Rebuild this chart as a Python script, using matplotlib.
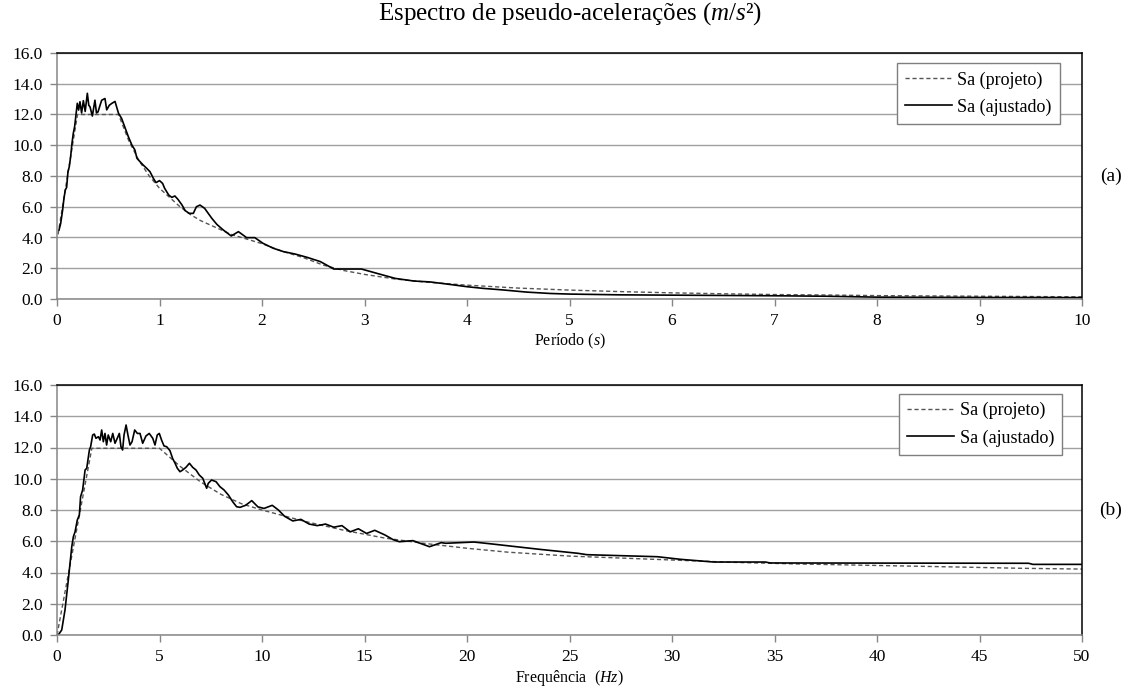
import matplotlib
matplotlib.use("Agg")
import matplotlib.pyplot as plt
import numpy as np

plt.rcParams["font.family"] = "Liberation Serif"
plt.rcParams["mathtext.fontset"] = "custom"
plt.rcParams["mathtext.rm"] = "Liberation Serif"
plt.rcParams["mathtext.it"] = "Liberation Serif:italic"

# (a) spectrum against period, s
periodo_proj = [0.01, 0.2, 0.6, 0.7, 0.8, 0.9, 1.0, 1.1, 1.2, 1.3, 1.4, 1.5, 1.6, 1.7, 1.8,
                2.0, 2.2, 2.4, 2.6, 2.8, 3.0, 3.3, 3.6, 4.0, 4.5, 5.0, 5.5, 6.0, 6.5, 7.0,
                7.5, 8.0, 8.5, 9.0, 9.5, 10.0]
sa_proj_a = [4.2, 12.0, 12.0, 10.3, 9.0, 8.0, 7.2, 6.6, 6.0, 5.5, 5.1, 4.8, 4.5, 4.2, 4.0,
             3.6, 3.1, 2.7, 2.2, 1.85, 1.6, 1.3, 1.1, 0.9, 0.71, 0.58, 0.48, 0.40, 0.34, 0.29,
             0.26, 0.22, 0.20, 0.18, 0.16, 0.14]

periodo_ajust = [0.02, 0.036, 0.055, 0.068, 0.081, 0.094, 0.107, 0.12, 0.133, 0.146,
                 0.159, 0.172, 0.185, 0.198, 0.211, 0.224, 0.24, 0.257, 0.275, 0.296,
                 0.31, 0.322, 0.345, 0.37, 0.385, 0.40, 0.42, 0.436, 0.468, 0.485,
                 0.51, 0.534, 0.566, 0.60, 0.63, 0.66, 0.696, 0.73, 0.76, 0.78,
                 0.81, 0.84, 0.875, 0.907, 0.94, 0.966, 1.0, 1.03, 1.05, 1.09,
                 1.12, 1.15, 1.18, 1.22, 1.25, 1.29, 1.33, 1.36, 1.395, 1.44,
                 1.51, 1.56, 1.62, 1.70, 1.77, 1.85, 1.93, 2.01, 2.11, 2.21,
                 2.32, 2.44, 2.57, 2.70, 2.83, 2.97, 3.12, 3.30, 3.48, 3.64,
                 3.83, 4.0, 4.16, 4.35, 4.58, 4.81, 5.0, 5.5, 6.0, 6.5,
                 7.0, 7.5, 8.0, 8.5, 9.0, 9.5, 10.0]
sa_ajust_a = [4.49, 4.92, 5.79, 6.55, 7.09, 7.26, 8.28, 8.61, 9.26, 10.12,
              10.78, 11.21, 11.97, 12.73, 12.29, 12.83, 12.1, 12.9, 12.2, 13.38,
              12.6, 12.5, 11.9, 12.93, 12.1, 12.17, 12.6, 12.93, 13.04, 12.3,
              12.6, 12.72, 12.85, 12.08, 11.75, 11.21, 10.56, 10.02, 9.69, 9.15,
              8.93, 8.72, 8.5, 8.28, 7.85, 7.57, 7.7, 7.52, 7.2, 6.76,
              6.61, 6.7, 6.48, 6.11, 5.75, 5.57, 5.57, 6.0, 6.11, 5.9,
              5.25, 4.85, 4.5, 4.1, 4.38, 3.99, 3.99, 3.62, 3.3, 3.08,
              2.93, 2.71, 2.43, 1.95, 1.95, 1.95, 1.67, 1.34, 1.17, 1.11,
              0.95, 0.80, 0.69, 0.59, 0.45, 0.36, 0.32, 0.27, 0.25, 0.23,
              0.21, 0.18, 0.12, 0.11, 0.10, 0.10, 0.09]

# (b) spectrum against frequency, Hz
freq_proj = [0, 1.7, 5.0, 6, 7, 8, 9, 10, 12, 14, 16, 18, 20, 22, 25, 28, 30, 33, 36,
             40, 44, 47, 50]
sa_proj_b = [0, 11.95, 11.95, 10.8, 9.8, 9.0, 8.4, 8.0, 7.3, 6.7, 6.2, 5.85, 5.55, 5.3,
             5.05, 4.9, 4.8, 4.65, 4.55, 4.45, 4.35, 4.27, 4.22]

freq_ajust = [0.06, 0.23, 0.39, 0.55, 0.72, 0.8, 0.88, 0.99, 1.09, 1.15,
              1.25, 1.37, 1.45, 1.58, 1.64, 1.74, 1.82, 1.9, 2.02, 2.1,
              2.18, 2.26, 2.34, 2.42, 2.5, 2.62, 2.72, 2.83, 2.94, 3.04,
              3.12, 3.2, 3.27, 3.37, 3.46, 3.56, 3.66, 3.79, 3.92, 4.05,
              4.18, 4.34, 4.5, 4.67, 4.78, 4.89, 4.99, 5.1, 5.22, 5.35,
              5.51, 5.64, 5.76, 5.87, 6.0, 6.13, 6.29, 6.46, 6.62, 6.78,
              6.94, 7.11, 7.3, 7.38, 7.54, 7.76, 7.95, 8.15, 8.36, 8.57,
              8.76, 8.93, 9.2, 9.5, 9.8, 10.1, 10.5, 10.8, 11.1, 11.5,
              11.9, 12.3, 12.7, 13.1, 13.5, 13.9, 14.3, 14.7, 15.1, 15.5,
              16.0, 16.4, 16.7, 17.36, 18.17, 18.74, 18.97, 20.34, 21.26, 22.41,
              23.56, 25.4, 25.85, 29.29, 30.44, 32.04, 34.56, 34.79, 47.4, 47.6,
              50.0]
sa_ajust_b = [0.0, 0.32, 1.6, 3.5, 5.65, 6.3, 6.6, 7.36, 7.68, 8.85,
              9.28, 10.56, 10.67, 11.84, 12.05, 12.8, 12.86, 12.59, 12.69, 12.48,
              13.12, 12.37, 12.9, 12.16, 12.8, 12.37, 12.9, 12.27, 12.59, 12.9,
              12.05, 11.84, 12.8, 13.44, 12.8, 12.16, 12.37, 13.12, 12.9, 12.9,
              12.27, 12.74, 12.9, 12.59, 12.16, 12.8, 12.9, 12.48, 12.1, 12.05,
              11.8, 11.3, 10.99, 10.67, 10.45, 10.56, 10.73, 10.99, 10.73, 10.56,
              10.24, 10.03, 9.39, 9.71, 9.92, 9.81, 9.49, 9.28, 8.96, 8.53,
              8.21, 8.17, 8.3, 8.6, 8.2, 8.1, 8.3, 8.0, 7.6, 7.3,
              7.4, 7.1, 7.0, 7.1, 6.9, 7.0, 6.6, 6.8, 6.5, 6.7,
              6.4, 6.1, 5.97, 6.04, 5.65, 5.91, 5.87, 5.95, 5.82, 5.65,
              5.48, 5.23, 5.14, 5.01, 4.84, 4.67, 4.67, 4.61, 4.59, 4.52,
              4.52]

GRID = "#a0a0a0"
AXIS_GREY = "#868686"

fig = plt.figure(figsize=(11.34, 6.97), dpi=100)
W, H = 1134, 697
ax1 = fig.add_axes([57 / W, 1 - 299 / H, 1025 / W, 246 / H])
ax2 = fig.add_axes([57 / W, 1 - 635 / H, 1025 / W, 250 / H])


def style_axes(ax, xmax, xstep):
    ax.set_xlim(0, xmax)
    ax.set_ylim(0, 16)
    ax.set_xticks(np.arange(0, xmax + 0.01, xstep))
    ax.set_yticks(np.arange(0, 16.1, 2))
    ax.set_yticklabels([f"{v:.1f}" for v in np.arange(0, 16.1, 2)])
    ax.grid(axis="y", color=GRID, linewidth=1)
    ax.set_axisbelow(True)
    for side in ("top", "right"):
        ax.spines[side].set_color("black")
        ax.spines[side].set_linewidth(1.1)
    for side in ("left", "bottom"):
        ax.spines[side].set_color(AXIS_GREY)
        ax.spines[side].set_linewidth(1.1)
    ax.tick_params(direction="out", length=5, width=1, color=AXIS_GREY,
                   labelsize=12.5, pad=5)


def add_legend(ax, anchor):
    leg = ax.legend(loc="upper right", bbox_to_anchor=anchor, fontsize=13,
                    fancybox=False, framealpha=1, edgecolor="#7f7f7f",
                    handlelength=2.6, handletextpad=0.3, borderpad=0.45,
                    labelspacing=0.55, borderaxespad=0)
    leg.get_frame().set_linewidth(1)


ax1.plot(periodo_proj, sa_proj_a, color="#555555", lw=1, ls=(0, (3, 2)),
         label="Sa (projeto)")
ax1.plot(periodo_ajust, sa_ajust_a, color="black", lw=1.2, label="Sa (ajustado)")
style_axes(ax1, 10, 1)
ax1.set_xlabel("Período ($s$)", fontsize=11.5, labelpad=2)
add_legend(ax1, (0.9785, 0.959))

ax2.plot(freq_proj, sa_proj_b, color="#555555", lw=1, ls=(0, (3, 2)),
         label="Sa (projeto)")
ax2.plot(freq_ajust, sa_ajust_b, color="black", lw=1.2, label="Sa (ajustado)")
style_axes(ax2, 50, 5)
ax2.set_xlabel("Frequência  ($Hz$)", fontsize=11.5, labelpad=2)
add_legend(ax2, (0.9805, 0.964))

fig.text(569.5 / W, 1 - 14 / H, "Espectro de pseudo-acelerações ($m/s$²)",
         ha="center", va="center", fontsize=18)
fig.text(1111 / W, 1 - 176 / H, "(a)", ha="center", va="center", fontsize=14)
fig.text(1111 / W, 1 - 510 / H, "(b)", ha="center", va="center", fontsize=14)

fig.savefig("out.png", dpi=100)
